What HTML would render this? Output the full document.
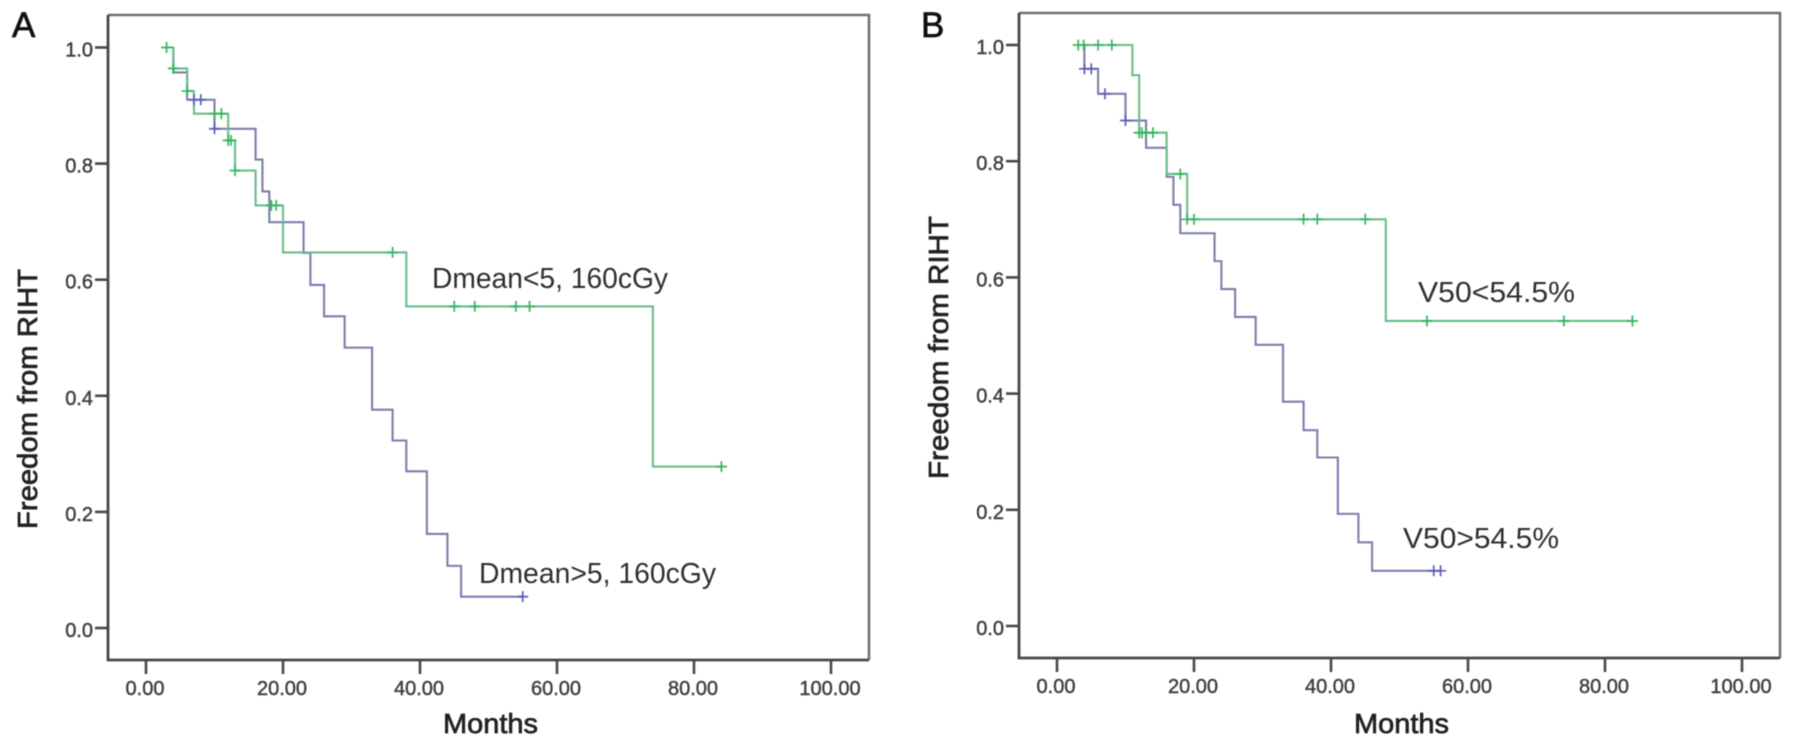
<!DOCTYPE html>
<html lang="en">
<head>
<meta charset="utf-8">
<title>Freedom from RIHT Kaplan-Meier curves</title>
<style>
html,body{margin:0;padding:0;background:#fff;width:1795px;height:746px;overflow:hidden}
svg{display:block;filter:blur(0.5px)}
text{font-family:"Liberation Sans",sans-serif}
.tick{font-size:20px;fill:#3f3f3f;stroke:#3f3f3f;stroke-width:0.45px}
.title{font-size:28px;fill:#222;stroke:#222;stroke-width:0.7px}
.note{font-size:29px;fill:#2f2f2f}
.letter{font-size:35px;fill:#111;stroke:#111;stroke-width:0.7px}
</style>
</head>
<body>
<svg id="figure" xmlns="http://www.w3.org/2000/svg" width="1795" height="746" viewBox="0 0 1795 746">
  <rect width="1795" height="746" fill="#fff"/>
  <text class="letter" x="12" y="37">A</text>
  <text class="letter" x="921" y="37">B</text>
  <text class="note" x="432" y="288" textLength="236" lengthAdjust="spacingAndGlyphs">Dmean&lt;5, 160cGy</text>
  <text class="note" x="479" y="583" textLength="237" lengthAdjust="spacingAndGlyphs">Dmean&gt;5, 160cGy</text>
  <text class="note" x="1418" y="302" textLength="157" lengthAdjust="spacingAndGlyphs">V50&lt;54.5%</text>
  <text class="note" x="1403" y="548" textLength="156" lengthAdjust="spacingAndGlyphs">V50&gt;54.5%</text>
  <text class="title" x="443" y="733" textLength="95" lengthAdjust="spacingAndGlyphs">Months</text>
  <text class="title" x="1354" y="733" textLength="95" lengthAdjust="spacingAndGlyphs">Months</text>
  <text class="title" transform="translate(37 529) rotate(-90)" textLength="260" lengthAdjust="spacingAndGlyphs">Freedom from RIHT</text>
  <text class="title" transform="translate(948 479) rotate(-90)" textLength="263" lengthAdjust="spacingAndGlyphs">Freedom from RIHT</text>
</svg>
<script>
const xTickValues = [0, 20, 40, 60, 80, 100];
const xTickLabels = ["0.00", "20.00", "40.00", "60.00", "80.00", "100.00"];
const yTickValues = [0, 0.2, 0.4, 0.6, 0.8, 1];
const yTickLabels = ["0.0", "0.2", "0.4", "0.6", "0.8", "1.0"];

const aBlueMonths = [3, 4, 6, 10, 16, 17, 18, 23, 24, 26, 29, 33, 36, 38, 41, 44, 46];
const aBlueSurvival = [1, 0.957, 0.91, 0.86, 0.807, 0.752, 0.699, 0.646, 0.591, 0.537, 0.483, 0.376, 0.323, 0.27, 0.162, 0.107, 0.054];
const aBlueEnd = 55;
const aBlueCensored = [7, 8, 10, 55];

const aGreenMonths = [3, 4, 6, 7, 12, 13, 16, 20, 38, 74];
const aGreenSurvival = [1, 0.964, 0.925, 0.886, 0.84, 0.788, 0.728, 0.647, 0.554, 0.278];
const aGreenEnd = 84;
const aGreenCensored = [3, 4, 6, 10, 11, 12, 12.4, 13, 18.3, 19, 36, 45, 48, 54, 56, 84];

const bBlueMonths = [3, 4, 6, 10, 13, 16, 17, 18, 23, 24, 26, 29, 33, 36, 38, 41, 44, 46];
const bBlueSurvival = [1, 0.959, 0.916, 0.87, 0.823, 0.773, 0.725, 0.676, 0.628, 0.58, 0.532, 0.484, 0.386, 0.337, 0.29, 0.193, 0.144, 0.095];
const bBlueEnd = 56;
const bBlueCensored = [4, 5, 7, 10, 55, 56];

const bGreenMonths = [3, 11, 12, 16, 19, 48];
const bGreenSurvival = [1, 0.948, 0.849, 0.778, 0.7, 0.525];
const bGreenEnd = 84;
const bGreenCensored = [3.1, 3.9, 6, 8, 12, 12.4, 13, 14, 18, 19, 20, 36, 38, 45, 54, 74, 84];

const BLUE = { line: "#7d7dab", mark: "#5b5fb5" };
const GREEN = { line: "#69bd8b", mark: "#35b45c" };
const svg = document.getElementById("figure");
const NS = "http://www.w3.org/2000/svg";

function add(tag, attrs, parent) {
  const el = document.createElementNS(NS, tag);
  for (const k in attrs) el.setAttribute(k, attrs[k]);
  (parent || svg).appendChild(el);
  return el;
}

function drawAxes(p, prefix) {
  const g = add("g", {});
  
  
  const frame = add("path", {
    d: "M" + p.left + " " + p.top + "H" + p.right + "V" + p.bottom,
    fill: "none", stroke: "#707070", "stroke-width": 2.6
  }, g);
  
  
  const axisL = add("path", {
    d: "M" + p.left + " " + p.top + "V" + p.bottom + "H" + p.right,
    fill: "none", stroke: "#484848", "stroke-width": 2.8
  }, g);
  
  
  xTickValues.forEach(function (v, i) {
    const x = p.x(v);
    const t = add("line", { x1: x, x2: x, y1: p.bottom, y2: p.bottom + 14, stroke: "#484848", "stroke-width": 2.6 }, g);
    
    
    const l = add("text", { x: x - 1, y: p.bottom + 35, "text-anchor": "middle", class: "tick" }, g);
    l.textContent = xTickLabels[i];
    
    
  });
  yTickValues.forEach(function (v, i) {
    const y = p.y(v);
    const t = add("line", { x1: p.left - 13, x2: p.left, y1: y, y2: y, stroke: "#484848", "stroke-width": 2.6 }, g);
    
    
    const l = add("text", { x: p.left - 15, y: y + 9, "text-anchor": "end", class: "tick" }, g);
    l.textContent = yTickLabels[i];
    
    
  });
}

function survivalAt(months, survival, m) {
  let s = survival[0];
  for (let i = 0; i < months.length; i++) if (months[i] <= m) s = survival[i];
  return s;
}

function drawLine(p, name, months, survival, end, color) {
  let d = "M" + p.x(months[0]) + " " + p.y(survival[0]);
  for (let i = 1; i < months.length; i++) {
    d += "H" + p.x(months[i]) + "V" + p.y(survival[i]);
  }
  d += "H" + p.x(end);
  const line = add("path", { d: d, fill: "none", stroke: color.line, "stroke-width": 2.1 });
  
  
}

function drawCensors(p, name, months, survival, censored, color) {
  censored.forEach(function (m) {
    const cx = p.x(m), cy = p.y(survivalAt(months, survival, m));
    const mark = add("path", {
      d: "M" + (cx - 5.5) + " " + cy + "H" + (cx + 5.5) + "M" + cx + " " + (cy - 5.5) + "V" + (cy + 5.5),
      fill: "none", stroke: color.mark, "stroke-width": 1.7
    });
    
    
  });
}

function panel(left, top, right, bottom, x0, y0, y1) {
  const pxPerMonth = 6.85;
  return {
    left: left, top: top, right: right, bottom: bottom,
    x: function (m) { return x0 + m * pxPerMonth; },
    y: function (v) { return y0 - (y0 - y1) * v; }
  };
}

const panelA = panel(108, 15, 869, 660, 146, 628, 47.5);
const panelB = panel(1019, 13, 1780, 658, 1057, 626, 45);

drawAxes(panelA, "panel-a");
drawLine(panelA, "dmean-high", aBlueMonths, aBlueSurvival, aBlueEnd, BLUE);
drawLine(panelA, "dmean-low", aGreenMonths, aGreenSurvival, aGreenEnd, GREEN);
drawCensors(panelA, "dmean-low", aGreenMonths, aGreenSurvival, aGreenCensored, GREEN);
drawCensors(panelA, "dmean-high", aBlueMonths, aBlueSurvival, aBlueCensored, BLUE);

drawAxes(panelB, "panel-b");
drawLine(panelB, "v50-high", bBlueMonths, bBlueSurvival, bBlueEnd, BLUE);
drawLine(panelB, "v50-low", bGreenMonths, bGreenSurvival, bGreenEnd, GREEN);
drawCensors(panelB, "v50-low", bGreenMonths, bGreenSurvival, bGreenCensored, GREEN);
drawCensors(panelB, "v50-high", bBlueMonths, bBlueSurvival, bBlueCensored, BLUE);
</script>
</body>
</html>
